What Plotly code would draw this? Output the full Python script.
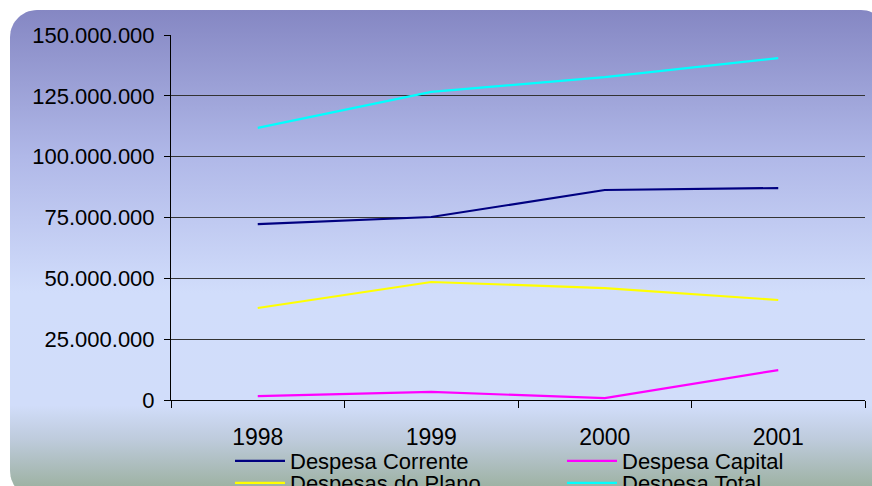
import numpy as np
import plotly.graph_objects as go

# Despesas anuais (R$)
anos = ["1998", "1999", "2000", "2001"]
despesa_corrente = [72_300_000, 75_200_000, 86_300_000, 87_100_000]
despesa_capital = [1_600_000, 3_300_000, 800_000, 12_300_000]
despesas_plano = [37_800_000, 48_500_000, 46_000_000, 41_100_000]
despesa_total = [111_800_000, 126_600_000, 132_700_000, 140_500_000]

y_ticks = [0, 25_000_000, 50_000_000, 75_000_000, 100_000_000, 125_000_000, 150_000_000]
y_tick_labels = ["0", "25.000.000", "50.000.000", "75.000.000",
                 "100.000.000", "125.000.000", "150.000.000"]

W, H = 872, 486
FONT = "Liberation Sans, Arial, sans-serif"


def rounded_rect(x0, y0, x1, y1, r, n=16):
    """Closed outline of a rounded rectangle (y grows downward)."""
    xs, ys = [], []
    corners = [
        (x1 - r, y0 + r, -np.pi / 2, 0),          # top-right
        (x1 - r, y1 - r, 0, np.pi / 2),           # bottom-right
        (x0 + r, y1 - r, np.pi / 2, np.pi),       # bottom-left
        (x0 + r, y0 + r, np.pi, 1.5 * np.pi),     # top-left
    ]
    for cx, cy, a0, a1 in corners:
        t = np.linspace(a0, a1, n)
        xs.extend(cx + r * np.cos(t))
        ys.extend(cy + r * np.sin(t))
    xs.append(xs[0])
    ys.append(ys[0])
    return xs, ys


fig = go.Figure()

# Panel background with vertical gradient (pixel-space helper axes)
bx, by = rounded_rect(10, 10, 888, 498, 27)
fig.add_trace(go.Scatter(
    x=bx, y=by, xaxis="x", yaxis="y", mode="lines",
    line=dict(width=0, color="rgba(0,0,0,0)"),
    fill="toself",
    fillgradient=dict(
        type="vertical", start=10, stop=498,
        colorscale=[
            [0.0, "rgb(133,135,195)"],
            [0.30, "rgb(176,184,232)"],
            [0.58, "rgb(209,221,251)"],
            [0.81, "rgb(209,221,250)"],
            [0.88, "rgb(190,203,220)"],
            [1.0, "rgb(150,172,150)"],
        ],
    ),
    hoverinfo="skip", showlegend=False,
))

series = [
    ("Despesa Corrente", despesa_corrente, "#000080", "legend"),
    ("Despesa Capital", despesa_capital, "#ff00ff", "legend"),
    ("Despesas do Plano", despesas_plano, "#ffff00", "legend2"),
    ("Despesa Total", despesa_total, "#00ffff", "legend2"),
]
for name, vals, color, leg in series:
    fig.add_trace(go.Scatter(
        x=anos, y=vals, name=name, mode="lines",
        line=dict(color=color, width=2.2),
        xaxis="x2", yaxis="y2", legend=leg,
    ))

px0, px1 = 171, 865
py_top, py_bot = 35, 400

legend_common = dict(
    orientation="h", xanchor="left", yanchor="middle",
    bgcolor="rgba(0,0,0,0)", borderwidth=0,
    font=dict(family=FONT, size=22, color="#000000"),
    itemwidth=50, entrywidth=267, entrywidthmode="pixels",
    itemclick=False, itemdoubleclick=False,
)

fig.update_layout(
    width=W, height=H,
    margin=dict(l=0, r=0, t=0, b=0, autoexpand=False),
    paper_bgcolor="white", plot_bgcolor="rgba(0,0,0,0)",
    font=dict(family=FONT, color="#000000"),
    xaxis=dict(domain=[0, 1], range=[0, W], visible=False, fixedrange=True),
    yaxis=dict(domain=[0, 1], range=[H, 0], visible=False, fixedrange=True),
    xaxis2=dict(
        domain=[px0 / W, px1 / W], anchor="y2", type="category",
        range=[-0.5, 3.5], tickson="boundaries",
        ticks="outside", ticklen=7, tickcolor="#000000", tickwidth=1,
        showline=True, linecolor="#000000", linewidth=1,
        showgrid=False, zeroline=False,
        tickfont=dict(family=FONT, size=23, color="#000000"),
        ticklabelstandoff=16,
    ),
    yaxis2=dict(
        domain=[1 - py_bot / H, 1 - py_top / H], anchor="x2",
        range=[0, 150_000_000],
        tickvals=y_ticks, ticktext=y_tick_labels,
        ticks="outside", ticklen=6, tickcolor="#000000", tickwidth=1,
        showline=True, linecolor="#000000", linewidth=1,
        showgrid=True, gridcolor="#333333", gridwidth=1,
        zeroline=False,
        tickfont=dict(family=FONT, size=22, color="#000000"),
        ticklabelstandoff=5,
    ),
    legend=dict(x=230 / W, y=1 - 461 / H, **legend_common),
    legend2=dict(x=230 / W, y=1 - 483 / H, **legend_common),
    showlegend=True,
)

fig.write_html("out.html")
